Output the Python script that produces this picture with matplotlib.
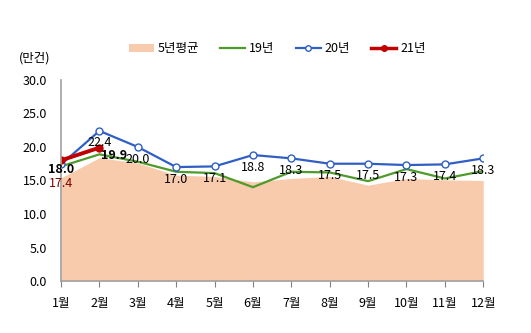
import matplotlib
matplotlib.use('Agg')
import matplotlib.pyplot as plt
from matplotlib.patches import Patch
from matplotlib.lines import Line2D

plt.rcParams['font.family'] = ['Noto Sans CJK KR', 'DejaVu Sans']

months = ['1월', '2월', '3월', '4월', '5월', '6월', '7월', '8월', '9월', '10월', '11월', '12월']
avg5 = [15.4, 18.4, 17.6, 15.8, 15.6, 14.8, 15.3, 15.6, 14.3, 15.3, 15.1, 15.0]
y19 = [17.1, 18.9, 17.8, 16.3, 16.1, 14.0, 16.3, 16.2, 14.9, 16.7, 15.3, 16.4]
y20 = [17.4, 22.4, 20.0, 17.0, 17.1, 18.8, 18.3, 17.5, 17.5, 17.3, 17.4, 18.3]
y21 = [18.0, 19.9]

fig = plt.figure(figsize=(5.31, 3.33), dpi=100)
ax = fig.add_axes([0.115, 0.156, 0.795, 0.604])

x = list(range(len(months)))
ax.fill_between(x, avg5, 0, color='#F8CBAD', lw=0)
ax.plot(x, y19, color='#4E9A2A', lw=1.6)
ax.plot(x, y20, color='#2F5FC4', lw=1.6, marker='o', ms=5,
        markerfacecolor='white', markeredgecolor='#2F5FC4', markeredgewidth=1)
ax.plot(x[:len(y21)], y21, color='#C00000', lw=2.8, marker='o', ms=5,
        markerfacecolor='#C00000', markeredgecolor='#C00000')

# labels for 20년 (first one pushed down under the 21년 label)
for i, v in enumerate(y20):
    col = '#800000' if i == 0 else 'black'
    off = -9 if i == 0 else -4
    ax.annotate(f'{v:.1f}', (i, v), xytext=(0, off), textcoords='offset points',
                ha='center', va='top', fontsize=9, color=col)
# labels for 21년
ax.annotate(f'{y21[0]:.1f}', (0, y21[0]), xytext=(0, -2), textcoords='offset points',
            ha='center', va='top', fontsize=9, fontweight='bold')
ax.annotate(f'{y21[1]:.1f}', (1, y21[1]), xytext=(1, -1), textcoords='offset points',
            ha='left', va='top', fontsize=9, fontweight='bold')

ax.set_xlim(0, 11)
ax.set_ylim(0, 30)
yt = [0, 5, 10, 15, 20, 25, 30]
ax.set_yticks(yt)
ax.set_yticklabels([f'{t:.1f}' for t in yt], fontsize=9)
ax.set_xticks(x)
ax.set_xticklabels(months, fontsize=9)
ax.tick_params(axis='y', length=0, pad=10)
ax.tick_params(axis='x', length=4.5, color='#808080', pad=7, direction='out')
for s in ['top', 'right']:
    ax.spines[s].set_visible(False)
for s in ['left', 'bottom']:
    ax.spines[s].set_color('#A0A0A0')
    ax.spines[s].set_linewidth(1.2)

handles = [
    Patch(facecolor='#F8CBAD', edgecolor='none'),
    Line2D([], [], color='#4E9A2A', lw=1.6),
    Line2D([], [], color='#2F5FC4', lw=1.6, marker='o', ms=4,
           markerfacecolor='white', markeredgecolor='#2F5FC4'),
    Line2D([], [], color='#C00000', lw=2.5, marker='o', ms=4,
           markerfacecolor='#C00000'),
]
fig.legend(handles, ['5년평균', '19년', '20년', '21년'], loc='center',
           bbox_to_anchor=(0.522, 0.853), ncol=4, frameon=False, fontsize=9,
           handlelength=2.0, handletextpad=0.3, columnspacing=1.7)

fig.text(0.035, 0.826, '(만건)', fontsize=9, va='center')

fig.savefig('out.png', dpi=100)
